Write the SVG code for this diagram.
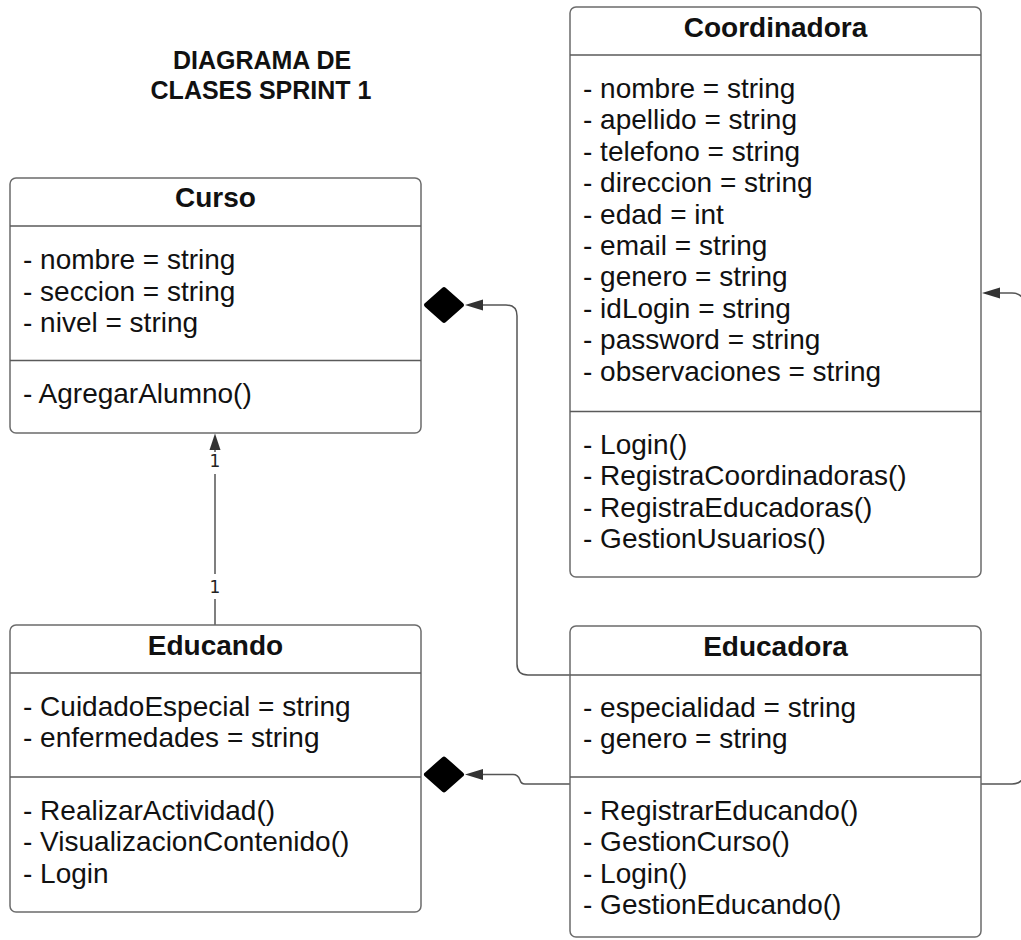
<svg xmlns="http://www.w3.org/2000/svg" width="1021" height="940" viewBox="0 0 1021 940">
<style>
.box{fill:#fff;stroke:#6b6b6b;stroke-width:1.5}
.div{stroke:#5a5a5a;stroke-width:1.3}
.t{font-family:"Liberation Sans",Arial,sans-serif;font-size:28px;fill:#111}
.h{font-family:"Liberation Sans",Arial,sans-serif;font-size:28px;font-weight:bold;fill:#111;text-anchor:middle}
.title{font-family:"Liberation Sans",Arial,sans-serif;font-size:25px;font-weight:bold;fill:#111;text-anchor:middle}
.c{fill:none;stroke:#555;stroke-width:1.5}
.ah{fill:#333}
.dia{fill:#000;stroke:#000;stroke-width:5;stroke-linejoin:round}
.lbl{font-family:"DejaVu Sans",sans-serif;font-size:17px;fill:#222;text-anchor:middle}
</style>
<rect width="1021" height="940" fill="#fff"/>
<g id="title">
<text class="title" x="262" y="69">DIAGRAMA DE</text>
<text class="title" x="261" y="99">CLASES SPRINT 1</text>
</g>
<g id="connectors">
<path class="c" d="M570,675 H528 Q517,675 517,664 V316 Q517,305 506,305 H482"/>
<polygon class="ah" points="465,305 483,299.5 483,310.5"/>
<polygon class="dia" points="426.5,305 444,289.5 461.5,305 444,320.5"/>
<path class="c" d="M570,784 H525 Q521,784 520,780 Q518,774.5 513,774.5 H482"/>
<polygon class="ah" points="465,774.5 483,769 483,780"/>
<polygon class="dia" points="426.5,774.5 444,759 461.5,774.5 444,790"/>
<path class="c" d="M981,784 H1012 Q1024,784 1024,772 V305 Q1024,293 1012,293 H998"/>
<polygon class="ah" points="982,293 1000,287.5 1000,298.5"/>
<path class="c" d="M215,450 V452 M215,474 V574 M215,599 V625"/>
<polygon class="ah" points="215,433.5 209.5,450 220.5,450"/>
<text class="lbl" x="215" y="467">1</text>
<text class="lbl" x="215" y="593">1</text>
</g>
<g id="curso">
<rect class="box" x="10" y="178" width="411" height="255" rx="6"/>
<line class="div" x1="10" y1="226" x2="421" y2="226"/>
<line class="div" x1="10" y1="360.5" x2="421" y2="360.5"/>
<text class="h" x="215.5" y="207">Curso</text>
<text class="t" x="23" y="269">- nombre = string</text>
<text class="t" x="23" y="300.5">- seccion = string</text>
<text class="t" x="23" y="332">- nivel = string</text>
<text class="t" x="23" y="403">- AgregarAlumno()</text>
</g>
<g id="coordinadora">
<rect class="box" x="570" y="7" width="411" height="570" rx="6"/>
<line class="div" x1="570" y1="55" x2="981" y2="55"/>
<line class="div" x1="570" y1="411.5" x2="981" y2="411.5"/>
<text class="h" x="775.5" y="37">Coordinadora</text>
<text class="t" x="583" y="98">- nombre = string</text>
<text class="t" x="583" y="129.4">- apellido = string</text>
<text class="t" x="583" y="160.8">- telefono = string</text>
<text class="t" x="583" y="192.2">- direccion = string</text>
<text class="t" x="583" y="223.6">- edad = int</text>
<text class="t" x="583" y="255">- email = string</text>
<text class="t" x="583" y="286.4">- genero = string</text>
<text class="t" x="583" y="317.8">- idLogin = string</text>
<text class="t" x="583" y="349.2">- password = string</text>
<text class="t" x="583" y="380.6">- observaciones = string</text>
<text class="t" x="583" y="454">- Login()</text>
<text class="t" x="583" y="485.4">- RegistraCoordinadoras()</text>
<text class="t" x="583" y="516.8">- RegistraEducadoras()</text>
<text class="t" x="583" y="548.2">- GestionUsuarios()</text>
</g>
<g id="educando">
<rect class="box" x="10" y="625" width="411" height="287" rx="6"/>
<line class="div" x1="10" y1="673" x2="421" y2="673"/>
<line class="div" x1="10" y1="777" x2="421" y2="777"/>
<text class="h" x="215.5" y="655">Educando</text>
<text class="t" x="23" y="716">- CuidadoEspecial = string</text>
<text class="t" x="23" y="747.4">- enfermedades = string</text>
<text class="t" x="23" y="820">- RealizarActividad()</text>
<text class="t" x="23" y="851.4">- VisualizacionContenido()</text>
<text class="t" x="23" y="882.8">- Login</text>
</g>
<g id="educadora">
<rect class="box" x="570" y="626" width="411" height="311" rx="6"/>
<line class="div" x1="570" y1="675" x2="981" y2="675"/>
<line class="div" x1="570" y1="777" x2="981" y2="777"/>
<text class="h" x="775.5" y="656">Educadora</text>
<text class="t" x="583" y="717">- especialidad = string</text>
<text class="t" x="583" y="748.4">- genero = string</text>
<text class="t" x="583" y="820">- RegistrarEducando()</text>
<text class="t" x="583" y="851.4">- GestionCurso()</text>
<text class="t" x="583" y="882.8">- Login()</text>
<text class="t" x="583" y="914.2">- GestionEducando()</text>
</g>
</svg>
